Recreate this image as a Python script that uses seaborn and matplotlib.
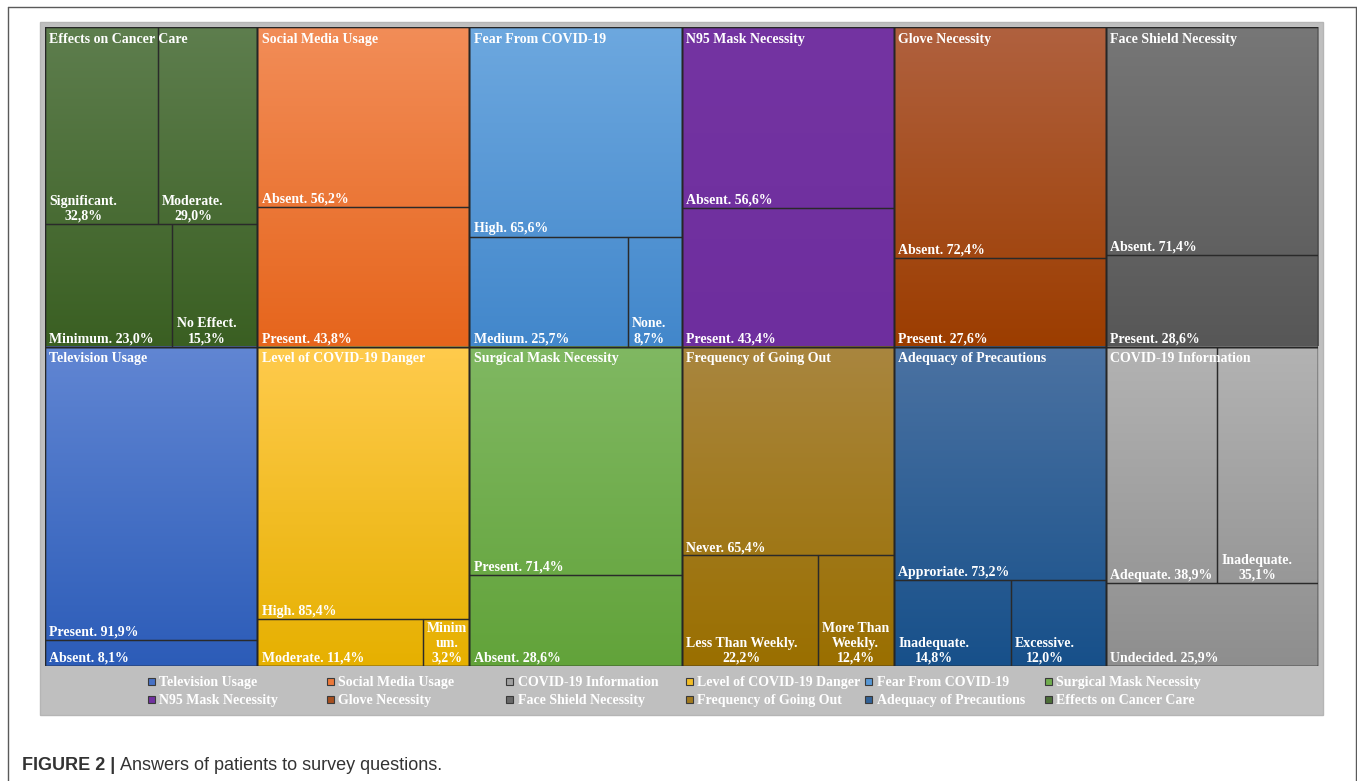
import numpy as np
import matplotlib
matplotlib.use("Agg")
import matplotlib.pyplot as plt
from matplotlib.patches import Rectangle
from matplotlib.lines import Line2D
import seaborn as sns

# survey questions (treemap groups), top row then bottom row
groups = ["Effects on Cancer Care", "Social Media Usage", "Fear From COVID-19",
          "N95 Mask Necessity", "Glove Necessity", "Face Shield Necessity",
          "Television Usage", "Level of COVID-19 Danger", "Surgical Mask Necessity",
          "Frequency of Going Out", "Adequacy of Precautions", "COVID-19 Information"]

answers = [["Significant", "Moderate", "Minimum", "No Effect"],
           ["Absent", "Present"],
           ["High", "Medium", "None"],
           ["Absent", "Present"],
           ["Absent", "Present"],
           ["Absent", "Present"],
           ["Present", "Absent"],
           ["High", "Moderate", "Minimum"],
           ["Present", "Absent"],
           ["Never", "Less Than Weekly", "More Than Weekly"],
           ["Approriate", "Inadequate", "Excessive"],
           ["Adequate", "Inadequate", "Undecided"]]

percents = [[32.8, 29.0, 23.0, 15.3],
            [56.2, 43.8],
            [65.6, 25.7, 8.7],
            [56.6, 43.4],
            [72.4, 27.6],
            [71.4, 28.6],
            [91.9, 8.1],
            [85.4, 11.4, 3.2],
            [71.4, 28.6],
            [65.4, 22.2, 12.4],
            [73.2, 14.8, 12.0],
            [38.9, 35.1, 25.9]]

legend_order = ["Television Usage", "Social Media Usage", "COVID-19 Information",
                "Level of COVID-19 Danger", "Fear From COVID-19", "Surgical Mask Necessity",
                "N95 Mask Necessity", "Glove Necessity", "Face Shield Necessity",
                "Frequency of Going Out", "Adequacy of Precautions", "Effects on Cancer Care"]

# layout / style (not data)
top_row_sizes = [2, 1, 1, 1, 1, 1, 1, 1, 1, 1, 1, 2]
top_colors = ["#5E7E4E", "#F28D58", "#6DA8DF", "#7434A2", "#B0613F", "#777777",
              "#6186D3", "#FFCB4D", "#80B862", "#A9863F", "#4B72A2", "#B3B3B3"]
bottom_colors = ["#3A5F22", "#E6651C", "#4287CB", "#6E2E9E", "#9C3D00", "#575757",
                 "#2C5CB8", "#E6B000", "#62A33A", "#9A6F00", "#17508A", "#8E8E8E"]

sns.set_theme(style="white")
plt.rcParams["font.family"] = ["Liberation Serif", "DejaVu Serif"]

W, H = 1357, 781
fig = plt.figure(figsize=(W / 100, H / 100), dpi=100)
fig.patch.set_facecolor("white")


def fx(px):
    return px / W


def fy(py):
    return 1 - py / H


# outer frame of the figure page
frame_kw = dict(color="#5a5a5a", lw=1.0)
fig.add_artist(Line2D([fx(7.5), fx(7.5)], [fy(6.5), 0], **frame_kw))
fig.add_artist(Line2D([fx(7.5), fx(1356)], [fy(6.5), fy(6.5)], **frame_kw))
fig.add_artist(Line2D([fx(1356), fx(1356)], [fy(6.5), 0], **frame_kw))

# grey chart panel
fig.add_artist(Rectangle((fx(40), fy(715)), fx(1323) - fx(40), fy(22) - fy(715),
                         transform=fig.transFigure, facecolor="#BFBFBF",
                         edgecolor="#B5B5B5", lw=1, zorder=-1))

ax = fig.add_axes([fx(45), fy(666), fx(1318) - fx(45), fy(27) - fy(666)])
ax_w_px = 1318 - 45
cell_px = ax_w_px / 6

renderer = fig.canvas.get_renderer()
lab_kw = dict(fontsize=10, fontweight="bold", color="white")


def text_w(s):
    t = fig.text(0, 0, s, **lab_kw)
    w = t.get_window_extent(renderer).width
    t.remove()
    return w


def fit_label(name, pct, avail):
    val = f"{pct:.1f}".replace(".", ",") + "%"
    one = f"{name}. {val}"
    if text_w(one) <= avail:
        return one
    lines, cur = [], ""
    for word in (name + ".").split():
        trial = (cur + " " + word).strip()
        if text_w(trial) <= avail:
            cur = trial
            continue
        if cur:
            lines.append(cur)
            cur = ""
        while text_w(word) > avail and len(word) > 1:
            n = len(word)
            while n > 1 and text_w(word[:n]) > avail:
                n -= 1
            lines.append(word[:n])
            word = word[n:]
        cur = word
    if cur:
        lines.append(cur)
    lines.append(val)
    return "\n".join(lines)


for i, g in enumerate(groups):
    gx = i % 6
    gy = 1 - i // 6
    # vertical gradient for the whole question block
    pal = sns.blend_palette([top_colors[i], bottom_colors[i]], n_colors=256)
    img = np.array(pal)[:, None, :]
    ax.imshow(img, extent=(gx, gx + 1, gy, gy + 1), origin="upper",
              aspect="auto", interpolation="bilinear", zorder=1)

    vals = percents[i]
    tot = sum(vals)
    k = top_row_sizes[i]
    y_top = gy + 1
    for idx in (range(0, k), range(k, len(vals))):
        rsum = sum(vals[j] for j in idx)
        h = rsum / tot
        x0 = gx
        for j in idx:
            w = vals[j] / rsum
            ax.add_patch(Rectangle((x0, y_top - h), w, h, fill=False,
                                   edgecolor="#2a2a2a", lw=0.9, zorder=2))
            label = fit_label(answers[i][j], vals[j], w * cell_px - 6)
            ax.annotate(label, xy=(x0, y_top - h), xytext=(3.2, 1.0),
                        textcoords="offset points", ha="left", va="bottom",
                        multialignment="center", linespacing=1.2,
                        zorder=4, **lab_kw)
            x0 += w
        y_top -= h

    ax.add_patch(Rectangle((gx, gy), 1, 1, fill=False, edgecolor="#262626",
                           lw=1.0, zorder=3))
    ax.annotate(g, xy=(gx, gy + 1), xytext=(3.2, -4.0), textcoords="offset points",
                ha="left", va="top", zorder=4, **lab_kw)

ax.set_xlim(0, 6)
ax.set_ylim(0, 2)
ax.axis("off")

# legend laid out on Excel's even grid
for n, name in enumerate(legend_order):
    gi = groups.index(name)
    mid = sns.blend_palette([top_colors[gi], bottom_colors[gi]], n_colors=3)[1]
    mx = 151 + (n % 6) * 179.4
    my = 681 + (n // 6) * 18
    fig.add_artist(Rectangle((fx(mx - 3.5), fy(my + 3.5)), 7 / W, 7 / H,
                             transform=fig.transFigure, facecolor=mid,
                             edgecolor="#3a3a3a", lw=0.8))
    fig.text(fx(mx + 8), fy(my), name, ha="left", va="center_baseline", **lab_kw)

# caption
cap_kw = dict(fontsize=13, color="#333333", family=["Liberation Sans", "DejaVu Sans"])
t1 = fig.text(fx(22), fy(770), "FIGURE 2 |", fontweight="bold", va="baseline", **cap_kw)
x1 = t1.get_window_extent(renderer).x1
fig.text((x1 + 5) / W, fy(770), "Answers of patients to survey questions.",
         va="baseline", **cap_kw)

fig.savefig("out.png", dpi=100)
